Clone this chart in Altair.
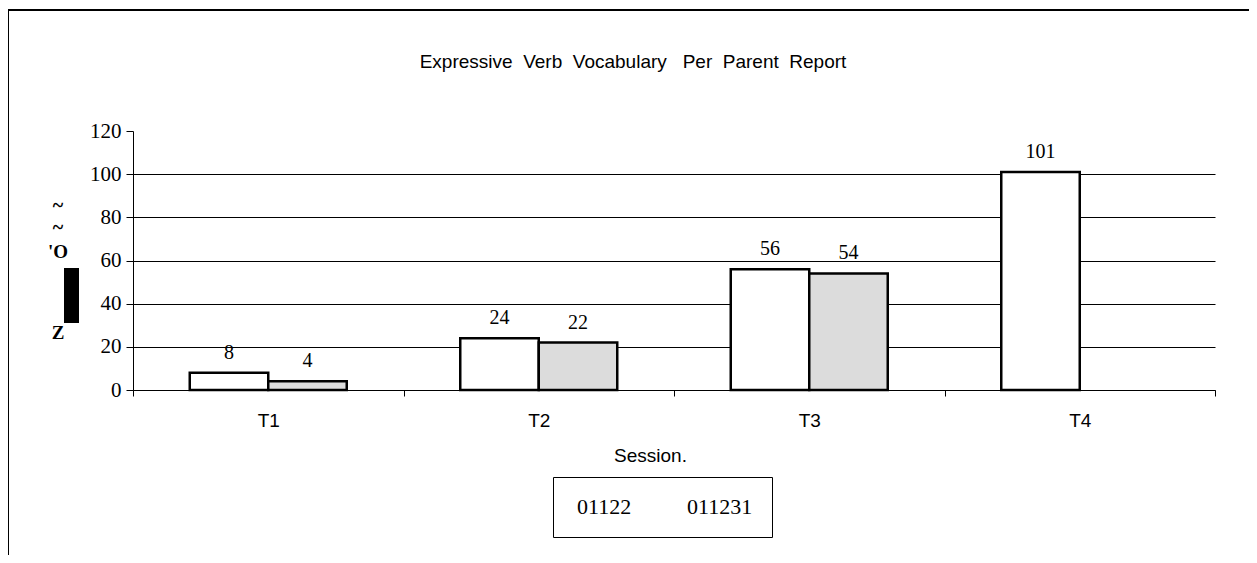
import altair as alt
import pandas as pd

sessions = ["T1", "T2", "T3", "T4"]
series_names = ["01122", "011231"]
values_a = [8, 24, 56, 101]
values_b = [4, 22, 54, None]
y_ticks = [0, 20, 40, 60, 80, 100, 120]
NB = "\u00a0"
title_text = f"Expressive{NB} Verb{NB} Vocabulary{NB}{NB} Per{NB} Parent{NB} Report"
y_title_glyphs = ["~", "~", "'O", "Z"]

rows = []
for s, a, b in zip(sessions, values_a, values_b):
    rows.append({"Session": s, "Series": series_names[0], "Count": a})
    if b is not None:
        rows.append({"Session": s, "Series": series_names[1], "Count": b})
df = pd.DataFrame(rows)

x_enc = alt.X(
    "Session:N", sort=sessions,
    scale=alt.Scale(paddingInner=0, paddingOuter=0),
    axis=alt.Axis(
        title="Session.", tickBand="extent", labelAngle=0,
        labelFont="Liberation Sans", labelFontSize=19, labelColor="black",
        labelPadding=15, tickSize=6, tickColor="black", domainColor="black",
        titleFont="Liberation Sans", titleFontSize=19, titleFontWeight="normal",
        titleColor="black", titleX=517, titleY=65, titleBaseline="middle",
    ),
)
xoff_enc = alt.XOffset("Series:N", sort=series_names,
                       scale=alt.Scale(paddingInner=0, paddingOuter=0.723))
y_enc = alt.Y(
    "Count:Q", scale=alt.Scale(domain=[0, 120], nice=False),
    axis=alt.Axis(
        values=y_ticks, title=None,
        labelFont="Liberation Serif", labelFontSize=21, labelColor="black",
        labelPadding=5, tickSize=7, tickColor="black", domainColor="black",
        grid=True, gridColor="black", gridWidth=1,
        gridOpacity={"condition": {"test": "datum.value == 120", "value": 0}, "value": 1},
    ),
)

bars = alt.Chart(df).mark_bar(stroke="black", strokeWidth=2.5).encode(
    x=x_enc, xOffset=xoff_enc, y=y_enc,
    color=alt.Color(
        "Series:N", sort=series_names,
        scale=alt.Scale(domain=series_names, range=["white", "#dcdcdc"]),
        legend=alt.Legend(
            orient="none", legendX=420, legendY=346, direction="horizontal",
            title=None, strokeColor="black", padding=19, symbolOpacity=0,
            symbolStrokeWidth=0, symbolSize=1, labelFont="Liberation Serif",
            labelFontSize=22, labelColor="black", columnPadding=50,
            labelOffset={"expr": "-17"},
        ),
    ),
)

labels = alt.Chart(df).mark_text(
    dy=-14, baseline="alphabetic", font="Liberation Serif", fontSize=20, color="black"
).encode(
    x=alt.X("Session:N", sort=sessions),
    xOffset=alt.XOffset("Series:N", sort=series_names),
    y=alt.Y("Count:Q"),
    text=alt.Text("Count:Q"),
)

deco = alt.Data(values=[{}])
title_mark = alt.Chart(deco).mark_text(
    font="Liberation Sans", fontSize=19, color="black", baseline="middle", align="center"
).encode(x=alt.value(500), y=alt.value(-69), text=alt.value(title_text))

ytitle_layers = []
for glyph, ypos, size in zip(y_title_glyphs, [75, 97, 121, 202], [20, 20, 19, 19]):
    ytitle_layers.append(
        alt.Chart(deco).mark_text(
            font="Liberation Serif", fontSize=size, fontWeight="bold", color="black",
            baseline="middle", align="center"
        ).encode(x=alt.value(-75), y=alt.value(ypos), text=alt.value(glyph))
    )

frame_top = alt.Chart(deco).mark_rule(color="black", strokeWidth=2).encode(
    x=alt.value(-125), x2=alt.value(1124), y=alt.value(-121))
frame_left = alt.Chart(deco).mark_rule(color="black", strokeWidth=2).encode(
    x=alt.value(-125), y=alt.value(-121), y2=alt.value(440))
black_bar = alt.Chart(deco).mark_rect(color="black").encode(
    x=alt.value(-69), x2=alt.value(-54), y=alt.value(137), y2=alt.value(192))

chart = alt.layer(bars, labels, title_mark, *ytitle_layers,
                  frame_top, frame_left, black_bar).properties(
    width=1082, height=259,
    autosize=alt.AutoSizeParams(type="none"),
    padding={"left": 125, "top": 123, "right": 34, "bottom": 165},
).configure(background="white", view=alt.ViewConfig(stroke="transparent"))

chart.save("out.html", embed_options={"renderer": "svg", "actions": False})
